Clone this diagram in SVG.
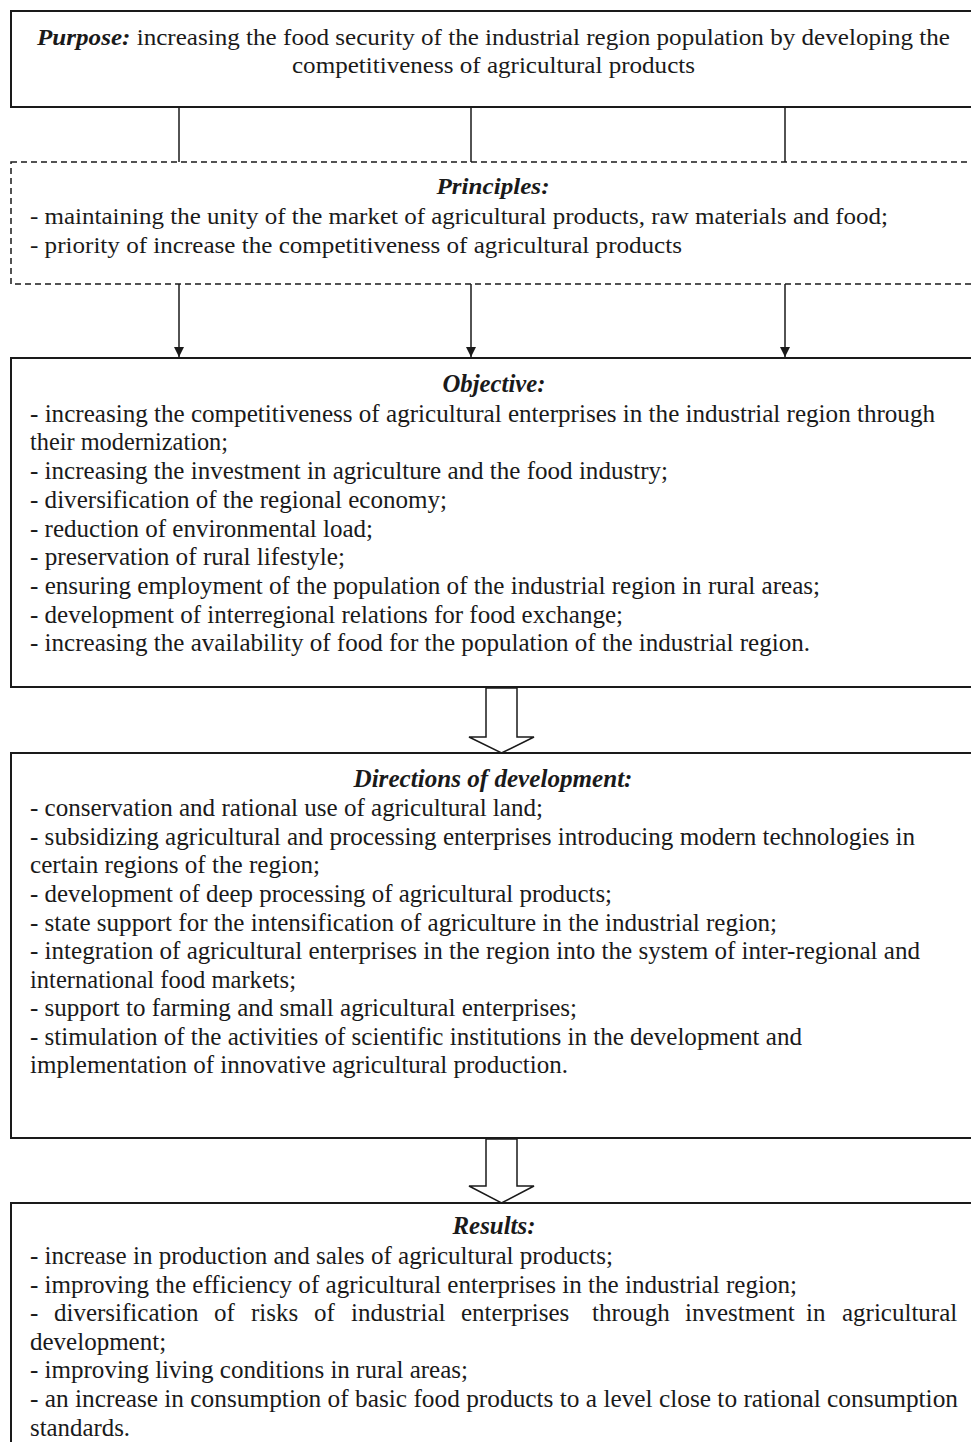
<svg xmlns="http://www.w3.org/2000/svg" width="971" height="1442" viewBox="0 0 971 1442">
<style>
.box{fill:#fff;stroke:#1a1a1a;stroke-width:2}
.dash{fill:#fff;stroke:#1a1a1a;stroke-width:1.5;stroke-dasharray:6 4}
.t{font-family:"Liberation Serif","Times New Roman",serif;font-size:25px;fill:#1a1a1a}
.s{font-size:23px}
.h{font-weight:bold;font-style:italic;text-anchor:middle}
.c{stroke:#1a1a1a;stroke-width:1.5;fill:none}
.ha{fill:#fff;stroke:#1a1a1a;stroke-width:1.5}
</style>
<defs>
<marker id="ah" viewBox="0 0 10 12" refX="10" refY="6" markerWidth="10" markerHeight="12" markerUnits="userSpaceOnUse" orient="auto">
<path d="M0,1 L10,6 L0,11 Z" fill="#1a1a1a"/>
</marker>
</defs>
<rect width="971" height="1442" fill="#fff"/>

<g id="purpose">
<rect class="box" x="11" y="11" width="964" height="96"/>
<text class="t s" x="37" y="45" textLength="913" lengthAdjust="spacingAndGlyphs"><tspan font-weight="bold" font-style="italic">Purpose:</tspan> increasing the food security of the industrial region population by developing the</text>
<text class="t s" x="292" y="73" textLength="403" lengthAdjust="spacingAndGlyphs">competitiveness of agricultural products</text>
</g>

<g id="principles">
<rect class="dash" x="11" y="162" width="964" height="122"/>
<text class="t s h" x="493" y="194" textLength="113" lengthAdjust="spacingAndGlyphs">Principles:</text>
<text class="t s" x="30" y="224" textLength="858" lengthAdjust="spacingAndGlyphs">- maintaining the unity of the market of agricultural products, raw materials and food;</text>
<text class="t s" x="30" y="253" textLength="652" lengthAdjust="spacingAndGlyphs">- priority of increase the competitiveness of agricultural products</text>
</g>

<g id="objective">
<rect class="box" x="11" y="358" width="964" height="329"/>
<text class="t h" x="494" y="392" textLength="103" lengthAdjust="spacingAndGlyphs">Objective:</text>
<text class="t" x="30" y="422" textLength="905" lengthAdjust="spacingAndGlyphs">- increasing the competitiveness of agricultural enterprises in the industrial region through</text>
<text class="t" x="30" y="450" textLength="198" lengthAdjust="spacingAndGlyphs">their modernization;</text>
<text class="t" x="30" y="479" textLength="638" lengthAdjust="spacingAndGlyphs">- increasing the investment in agriculture and the food industry;</text>
<text class="t" x="30" y="508" textLength="417" lengthAdjust="spacingAndGlyphs">- diversification of the regional economy;</text>
<text class="t" x="30" y="537" textLength="343" lengthAdjust="spacingAndGlyphs">- reduction of environmental load;</text>
<text class="t" x="30" y="565" textLength="315" lengthAdjust="spacingAndGlyphs">- preservation of rural lifestyle;</text>
<text class="t" x="30" y="594" textLength="790" lengthAdjust="spacingAndGlyphs">- ensuring employment of the population of the industrial region in rural areas;</text>
<text class="t" x="30" y="623" textLength="593" lengthAdjust="spacingAndGlyphs">- development of interregional relations for food exchange;</text>
<text class="t" x="30" y="651" textLength="780" lengthAdjust="spacingAndGlyphs">- increasing the availability of food for the population of the industrial region.</text>
</g>

<g id="directions">
<rect class="box" x="11" y="753" width="964" height="385"/>
<text class="t h" x="493" y="787" textLength="279" lengthAdjust="spacingAndGlyphs">Directions of development:</text>
<text class="t" x="30" y="816" textLength="513" lengthAdjust="spacingAndGlyphs">- conservation and rational use of agricultural land;</text>
<text class="t" x="30" y="845" textLength="885" lengthAdjust="spacingAndGlyphs">- subsidizing agricultural and processing enterprises introducing modern technologies in</text>
<text class="t" x="30" y="873" textLength="290" lengthAdjust="spacingAndGlyphs">certain regions of the region;</text>
<text class="t" x="30" y="902" textLength="582" lengthAdjust="spacingAndGlyphs">- development of deep processing of agricultural products;</text>
<text class="t" x="30" y="931" textLength="747" lengthAdjust="spacingAndGlyphs">- state support for the intensification of agriculture in the industrial region;</text>
<text class="t" x="30" y="959" textLength="890" lengthAdjust="spacingAndGlyphs">- integration of agricultural enterprises in the region into the system of inter-regional and</text>
<text class="t" x="30" y="988" textLength="266" lengthAdjust="spacingAndGlyphs">international food markets;</text>
<text class="t" x="30" y="1016" textLength="547" lengthAdjust="spacingAndGlyphs">- support to farming and small agricultural enterprises;</text>
<text class="t" x="30" y="1045" textLength="772" lengthAdjust="spacingAndGlyphs">- stimulation of the activities of scientific institutions in the development and</text>
<text class="t" x="30" y="1073" textLength="538" lengthAdjust="spacingAndGlyphs">implementation of innovative agricultural production.</text>
</g>

<g id="results">
<rect class="box" x="11" y="1203" width="964" height="260"/>
<text class="t h" x="494" y="1234" textLength="83" lengthAdjust="spacingAndGlyphs">Results:</text>
<text class="t" x="30" y="1264" textLength="583" lengthAdjust="spacingAndGlyphs">- increase in production and sales of agricultural products;</text>
<text class="t" x="30" y="1293" textLength="767" lengthAdjust="spacingAndGlyphs">- improving the efficiency of agricultural enterprises in the industrial region;</text>
<text class="t" y="1321"><tspan x="30">-</tspan><tspan x="54">diversification</tspan><tspan x="214">of</tspan><tspan x="251">risks</tspan><tspan x="314">of</tspan><tspan x="351">industrial</tspan><tspan x="461">enterprises</tspan><tspan x="592">through</tspan><tspan x="685">investment</tspan><tspan x="806">in</tspan><tspan x="842">agricultural</tspan></text>
<text class="t" x="30" y="1350">development;</text>
<text class="t" x="30" y="1378" textLength="438" lengthAdjust="spacingAndGlyphs">- improving living conditions in rural areas;</text>
<text class="t" x="30" y="1407" textLength="928" lengthAdjust="spacingAndGlyphs">- an increase in consumption of basic food products to a level close to rational consumption</text>
<text class="t" x="30" y="1436" textLength="100" lengthAdjust="spacingAndGlyphs">standards.</text>
</g>

<g id="connectors">
<line class="c" x1="179" y1="107" x2="179" y2="162"/>
<line class="c" x1="471" y1="107" x2="471" y2="162"/>
<line class="c" x1="785" y1="107" x2="785" y2="162"/>
<line class="c" x1="179" y1="284" x2="179" y2="357" marker-end="url(#ah)"/>
<line class="c" x1="471" y1="284" x2="471" y2="357" marker-end="url(#ah)"/>
<line class="c" x1="785" y1="284" x2="785" y2="357" marker-end="url(#ah)"/>
<polygon class="ha" points="486,688 517,688 517,737 534,737 501.5,753 469,737 486,737"/>
<polygon class="ha" points="486,1139 517,1139 517,1186 534,1186 501.5,1203 469,1186 486,1186"/>
</g>
</svg>
